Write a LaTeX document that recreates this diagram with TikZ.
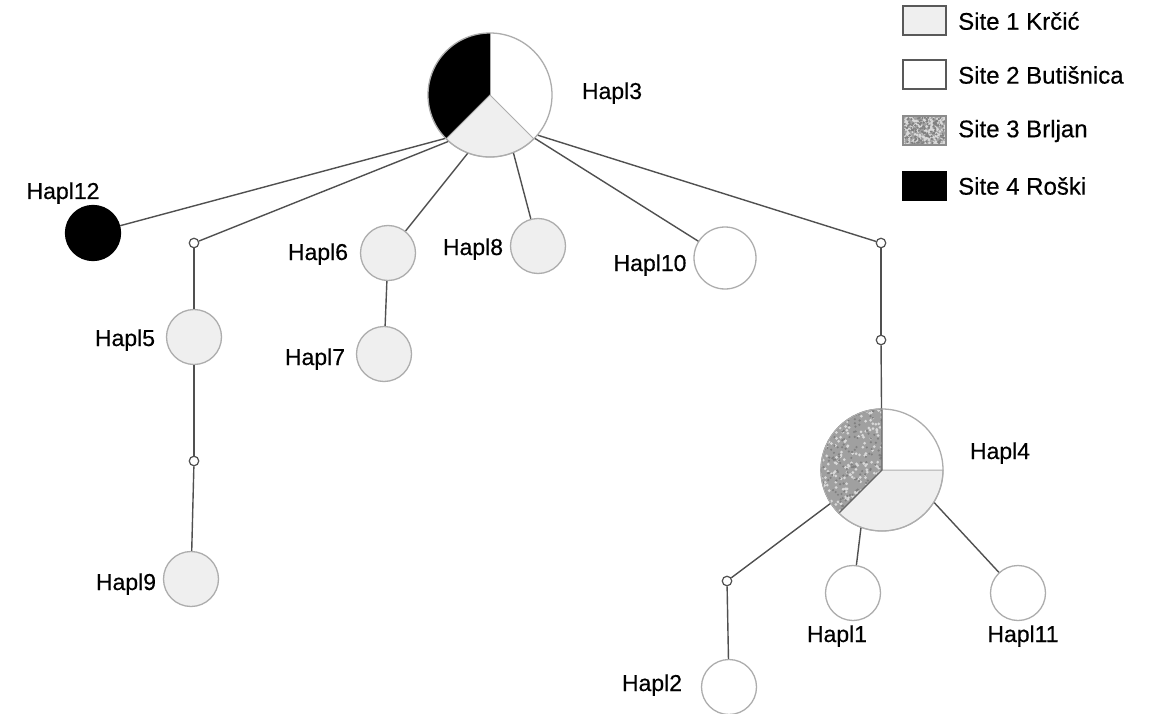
\documentclass[tikz,border=0pt]{standalone}
\usepackage{fontspec}
\setmainfont{Liberation Sans}
\newfontfamily\labfont[FakeBold=0.45]{Liberation Sans}
\definecolor{lgray}{HTML}{EFEFEF}
\definecolor{rim}{HTML}{ADADAD}
\definecolor{edgec}{HTML}{505050}
\definecolor{stip}{HTML}{A0A0A0}
\newcommand\mySpeckle[4]{%
  \fill[stip] (#1,#2) rectangle ++(#3,#4);
  \foreach \k in {1,...,260} {
    \pgfmathsetmacro\px{#1+rnd*#3}
    \pgfmathsetmacro\py{#2+rnd*#4}
    \fill[white!60!stip] (\px,\py) circle (1.5pt);
  }
  \foreach \k in {1,...,200} {
    \pgfmathsetmacro\px{#1+rnd*#3}
    \pgfmathsetmacro\py{#2+rnd*#4}
    \fill[black!50] (\px,\py) circle (1.2pt);
  }}
\begin{document}
\begin{tikzpicture}[x=1pt,y=1pt,
  hap/.style={circle, draw=rim, line width=1.3pt, inner sep=0pt, minimum size=55pt},
  site1/.style={hap, fill=lgray},
  site2/.style={hap, fill=white},
  site4/.style={hap, fill=black, draw=black},
  vtx/.style={circle, draw=edgec, fill=white, line width=1.2pt, inner sep=0pt, minimum size=9.5pt},
  lab/.style={font=\labfont\fontsize{23}{23}\selectfont, inner sep=0pt, anchor=base},
  legtxt/.style={font=\labfont\fontsize{24}{24}\selectfont, inner sep=0pt, anchor=west},
  legbox/.style={draw=black!65, line width=1.5pt},
  link/.style={draw=edgec, line width=1.4pt}]
\pgfmathsetseed{7}
\useasboundingbox (0,0) rectangle (1153,-714);
\fill[white] (0,0) rectangle (1153,-714);

% ---- Hapl3 pie
\coordinate (c3) at (490,-95);
\fill[black] (c3) -- ++(90:62pt) arc[start angle=90,end angle=225,radius=62pt] -- cycle;
\filldraw[fill=lgray, draw=rim, line width=1pt] (c3) -- ++(225:62pt) arc[start angle=225,end angle=315,radius=62pt] -- cycle;
\draw[rim, line width=1pt] (c3) -- ++(90:62pt);
\node[hap, minimum size=124pt] (h3) at (c3) {};

% ---- Hapl4 pie
\coordinate (c4) at (882,-470);
\filldraw[fill=lgray, draw=rim, line width=1pt] (c4) -- ++(225:61pt) arc[start angle=225,end angle=360,radius=61pt] -- cycle;
\begin{scope}
  \clip (c4) -- ++(90:61pt) arc[start angle=90,end angle=225,radius=61pt] -- cycle;
  \mySpeckle{818}{-516}{66}{110}
\end{scope}
\draw[black!60, line width=1.1pt] (c4) -- ++(90:61pt) arc[start angle=90,end angle=225,radius=61pt] -- cycle;
\node[hap, minimum size=122pt] (h4) at (c4) {};

% ---- other haplotypes
\node[site4] (h12) at (93,-233) {};
\node[site1] (h5) at (194,-337) {};
\node[site1] (h9) at (191,-579) {};
\node[site1] (h6) at (388,-253) {};
\node[site1] (h7) at (384,-354) {};
\node[site1] (h8) at (538,-246) {};
\node[site2, minimum size=62pt] (h10) at (725,-258) {};
\node[site2] (h1) at (853,-593) {};
\node[site2] (h11) at (1018,-593) {};
\node[site2] (h2) at (729,-687) {};

% ---- median vectors
\node[vtx] (v1) at (194,-243) {};
\node[vtx] (v2) at (194,-461) {};
\node[vtx] (v3) at (881,-243) {};
\node[vtx] (v4) at (881,-340) {};
\node[vtx] (v5) at (727,-581) {};

% ---- connectors
\draw[link] (h3.224) -- (h12);
\draw[link] (h3.228) -- (v1);
\draw[link] (v1) -- (h5);
\draw[link] (h5) -- (v2);
\draw[link] (v2) -- (h9);
\draw[link] (h3.249) -- (h6);
\draw[link] (h6) -- (h7);
\draw[link] (h3.292) -- (h8);
\draw[link] (h3.316) -- (h10);
\draw[link] (h3.320) -- (v3);
\draw[link] (v3) -- (v4);
\draw[link] (v4) -- (h4);
\draw[link] (h4.213) -- (v5);
\draw[link] (v5) -- (h2);
\draw[link] (h4.250) -- (h1);
\draw[link] (h4.328) -- (h11);

% ---- labels
\node[lab] (l3) at (612,-99) {Hapl3};
\node[lab] (l12) at (63,-199) {Hapl12};
\node[lab] (l6) at (318,-260) {Hapl6};
\node[lab] (l8) at (473,-255) {Hapl8};
\node[lab] (l10) at (650,-271) {Hapl10};
\node[lab] (l5) at (125,-346) {Hapl5};
\node[lab] (l7) at (315,-365) {Hapl7};
\node[lab] (l9) at (126,-590) {Hapl9};
\node[lab] (l4) at (1000,-459) {Hapl4};
\node[lab] (l1) at (837,-642) {Hapl1};
\node[lab] (l11) at (1023,-642) {Hapl11};
\node[lab] (l2) at (652,-691) {Hapl2};

% ---- legend
\filldraw[legbox, fill=lgray] (903,-6) rectangle (946,-35);
\filldraw[legbox, fill=white] (903,-60) rectangle (946,-89);
\begin{scope}
  \clip (903,-116) rectangle (946,-145);
  \mySpeckle{900}{-148}{50}{36}
\end{scope}
\draw[legbox, draw=black!45] (903,-116) rectangle (946,-145);
\filldraw[legbox, fill=black, draw=black] (903,-172) rectangle (946,-200);
\node[legtxt] (t1) at (958,-21) {Site 1 Krčić};
\node[legtxt] (t2) at (958,-75) {Site 2 Butišnica};
\node[legtxt] (t3) at (958,-131) {Site 3 Brljan};
\node[legtxt] (t4) at (958,-186) {Site 4 Roški};
\end{tikzpicture}
\end{document}
